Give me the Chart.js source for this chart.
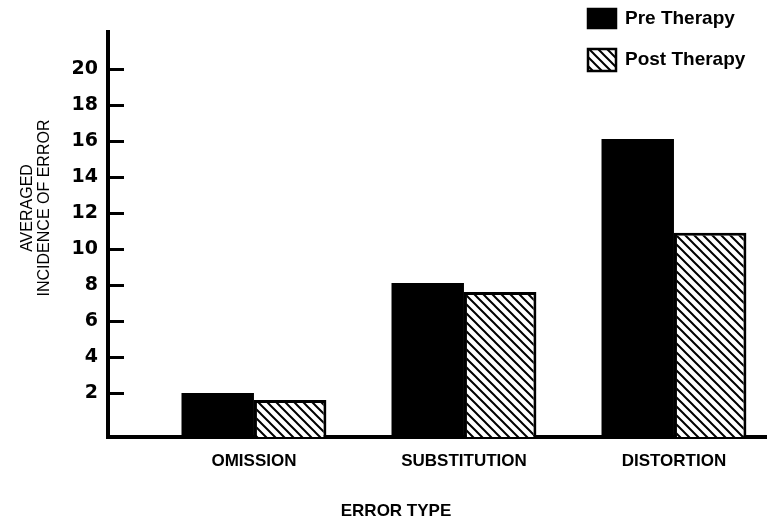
<!DOCTYPE html>
<html>
  <head>
    <title>Averaged Incidence of Error</title>
    <script src="https://cdn.jsdelivr.net/npm/chart.js@4.4.0/dist/chart.umd.min.js"></script>
    <style>
      html, body { margin: 0; padding: 0; background: #fff; }
      #container { width: 767px; height: 523px; }
    </style>
  </head>
  <body>
    <div id="container"><canvas id="canvas"></canvas></div>
    <script>
      const categories = ['OMISSION', 'SUBSTITUTION', 'DISTORTION'];
      const seriesNames = ['Pre Therapy', 'Post Therapy'];
      const preTherapy = [2.0, 8.1, 16.1];
      const postTherapy = [1.6, 7.6, 10.9];
      const yTicks = [2, 4, 6, 8, 10, 12, 14, 16, 18, 20];
      const yTitle = ['AVERAGED', 'INCIDENCE OF ERROR'];
      const xTitle = 'ERROR TYPE';

      const LABEL_FONT = 'Liberation Sans, Arial, sans-serif';

      // diagonal "\" hatching used for the post therapy bars
      function makeHatch(ctx) {
        const s = 9;
        const c = document.createElement('canvas');
        c.width = s;
        c.height = s;
        const g = c.getContext('2d');
        g.fillStyle = '#fff';
        g.fillRect(0, 0, s, s);
        g.strokeStyle = '#000';
        g.lineWidth = 2;
        g.beginPath();
        g.moveTo(-2, -2); g.lineTo(s + 2, s + 2);
        g.moveTo(-2, s - 2); g.lineTo(2, s + 2);
        g.moveTo(s - 2, -2); g.lineTo(s + 2, 2);
        g.stroke();
        return ctx.createPattern(c, 'repeat');
      }

      // tick marks pointing into the plot, like the original
      const innerTicks = {
        id: 'innerTicks',
        afterDraw(chart) {
          const { ctx, chartArea, scales } = chart;
          ctx.save();
          ctx.strokeStyle = '#000';
          ctx.lineWidth = 3;
          yTicks.forEach((v) => {
            const y = Math.round(scales.y.getPixelForValue(v)) + 0.5;
            ctx.beginPath();
            ctx.moveTo(chartArea.left, y);
            ctx.lineTo(chartArea.left + 16, y);
            ctx.stroke();
          });
          ctx.restore();
        },
      };

      const axisTitles = {
        id: 'axisTitles',
        afterDraw(chart) {
          const { ctx } = chart;
          ctx.save();
          ctx.fillStyle = '#000';
          ctx.textAlign = 'center';
          ctx.textBaseline = 'middle';
          ctx.font = '16px ' + LABEL_FONT;
          ctx.translate(36, 208);
          ctx.rotate(-Math.PI / 2);
          ctx.fillText(yTitle[0], 0, -8);
          ctx.fillText(yTitle[1], 0, 9);
          ctx.restore();

          ctx.save();
          ctx.fillStyle = '#000';
          ctx.font = 'bold 17px ' + LABEL_FONT;
          ctx.textAlign = 'center';
          ctx.textBaseline = 'middle';
          ctx.fillText(xTitle, 396, 511);
          ctx.restore();
        },
      };

      // legend stacked in the top right corner
      const boxLegend = {
        id: 'boxLegend',
        afterDraw(chart) {
          const { ctx } = chart;
          const rows = [
            { y: 8, h: 21 },
            { y: 48, h: 24 },
          ];
          ctx.save();
          chart.data.datasets.forEach((ds, i) => {
            const r = rows[i];
            ctx.fillStyle = ds.backgroundColor;
            ctx.fillRect(587, r.y, 30, r.h);
            ctx.strokeStyle = '#000';
            ctx.lineWidth = 2.5;
            ctx.strokeRect(588, r.y + 1, 28, r.h - 2);
            ctx.fillStyle = '#000';
            ctx.font = 'bold 19px ' + LABEL_FONT;
            ctx.textAlign = 'left';
            ctx.textBaseline = 'middle';
            ctx.fillText(ds.label, 625, r.y + r.h / 2);
          });
          ctx.restore();
        },
      };

      window.onload = () => {
        const ctx = document.getElementById('canvas').getContext('2d');
        const hatch = makeHatch(ctx);
        window.myBar = new Chart(ctx, {
          type: 'bar',
          data: {
            datasets: [
              {
                label: seriesNames[0],
                data: preTherapy.map((v, i) => ({ x: i + 1, y: v })),
                backgroundColor: '#000',
                borderColor: '#000',
                borderWidth: 0,
                base: -0.45,
              },
              {
                label: seriesNames[1],
                data: postTherapy.map((v, i) => ({ x: i + 1, y: v })),
                backgroundColor: hatch,
                borderColor: '#000',
                borderWidth: 3,
                base: -0.45,
              },
            ],
          },
          plugins: [innerTicks, axisTitles, boxLegend],
          options: {
            responsive: true,
            maintainAspectRatio: false,
            animation: false,
            categoryPercentage: 0.69,
            barPercentage: 1.0,
            layout: { padding: { top: 32, right: 0, bottom: 0, left: 0 } },
            plugins: {
              legend: { display: false },
              tooltip: { enabled: false },
            },
            scales: {
              x: {
                type: 'linear',
                offset: false,
                min: 0.305,
                max: 3.443,
                afterFit(scale) { scale.height = 86; },
                afterBuildTicks(scale) {
                  scale.ticks = categories.map((c, i) => ({ value: i + 1 }));
                },
                grid: { display: false, drawTicks: false, tickLength: 0 },
                border: { display: true, color: '#000', width: 4 },
                ticks: {
                  padding: 14,
                  color: '#000',
                  maxRotation: 0,
                  font: { family: LABEL_FONT, size: 17, weight: 'bold' },
                  callback: (v) => categories[v - 1] || '',
                },
              },
              y: {
                min: -0.45,
                max: 22.05,
                afterFit(scale) { scale.width = 108; },
                afterBuildTicks(scale) {
                  scale.ticks = yTicks.map((v) => ({ value: v }));
                },
                grid: { display: false, drawTicks: false, tickLength: 0 },
                border: { display: true, color: '#000', width: 4 },
                ticks: {
                  padding: 10,
                  color: '#000',
                  font: { family: 'DejaVu Sans', size: 19, weight: 'bold' },
                },
              },
            },
          },
        });
      };
    </script>
  </body>
</html>
